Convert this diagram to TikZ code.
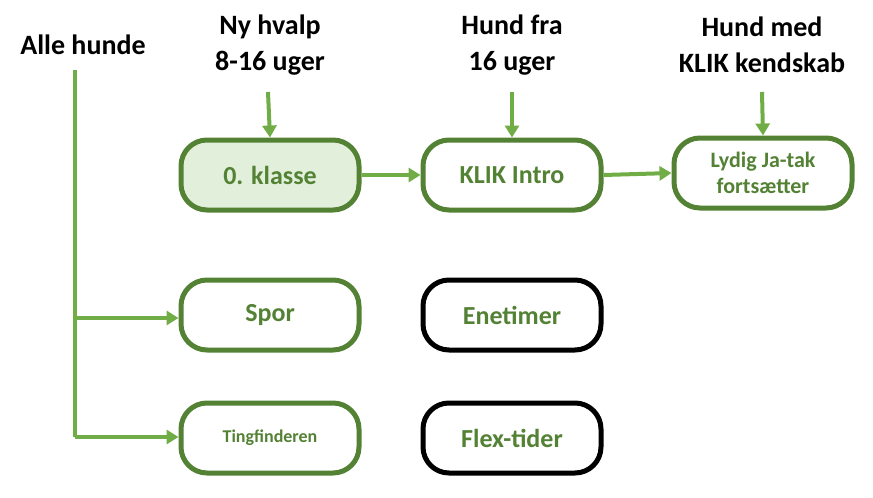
\documentclass[tikz,border=0pt]{standalone}
\usepackage{fontspec}
\setmainfont{Carlito}
\usetikzlibrary{arrows.meta}
\definecolor{dg}{HTML}{548235}
\definecolor{lg}{HTML}{70AD47}
\definecolor{fl}{HTML}{E2EFDA}
\tikzset{
 box/.style={draw=dg,line width=5pt,rounded corners=26pt,minimum width=178pt,minimum height=70pt,text=dg,font=\bfseries\fontsize{26}{28}\selectfont,align=center,fill=white},
 bbox/.style={box,draw=black},
 lab/.style={font=\bfseries\fontsize{28}{36}\selectfont,align=center},
 arr/.style={draw=lg,line width=4pt,-{Triangle[length=12pt,width=14pt]}},
 ln/.style={draw=lg,line width=4pt}
}
\begin{document}
\begin{tikzpicture}[x=1pt,y=-1pt]
\useasboundingbox (0,0) rectangle (873,498);
\node[box,fill=fl] (k0) at (270,175) {0. klasse};
\node[box] (ki) at (512,175) {KLIK Intro};
\node[box,font=\bfseries\fontsize{22}{26}\selectfont] (ly) at (763,173) {Lydig Ja-tak\\fortsætter};
\node[box] (sp) at (270,315) {Spor};
\node[bbox] (en) at (512,315) {Enetimer};
\node[box,font=\bfseries\fontsize{18}{20}\selectfont] (ti) at (270,438) {Tingfinderen};
\node[bbox] (fx) at (512,438) {Flex-tider};
\node[lab] (a) at (83,45) {Alle hunde};
\node[lab] (n) at (270,45) {Ny hvalp\\8-16 uger};
\node[lab] (h) at (512,45) {Hund fra\\16 uger};
\node[lab] (m) at (762,45) {Hund med\\KLIK kendskab};
\draw[arr] (268,92) -- (k0.north);
\draw[arr] (512,92) -- (ki.north);
\draw[arr] (762,92) -- (ly.north);
\draw[arr] (k0.east) -- (ki.west);
\draw[arr] (ki.east) -- (ly.west);
\coordinate (t) at (75,70);
\coordinate (b) at (75,437);
\coordinate (s) at (75,318);
\draw[ln] (t) -- (b);
\draw[arr] (s) -- (sp.west |- s);
\draw[arr] (b) -- (ti.west |- b);
\end{tikzpicture}
\end{document}
